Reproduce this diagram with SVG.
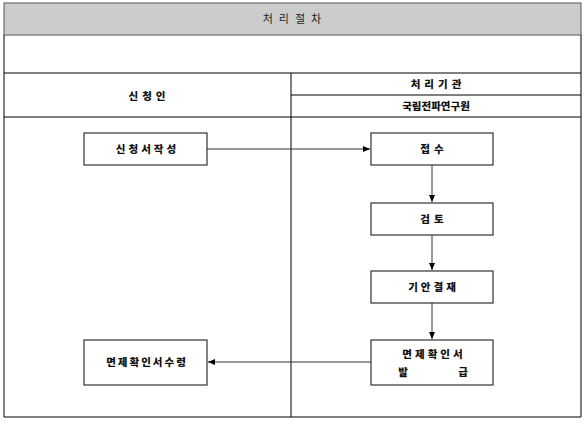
<svg xmlns="http://www.w3.org/2000/svg" width="585" height="427" viewBox="0 0 585 427">
<style>
.ln{stroke:#000;stroke-width:1;fill:none}
.box{fill:#fff;stroke:#333;stroke-width:1.2}
.t{font-family:"Noto Sans CJK KR","Noto Sans",sans-serif;font-size:10.5px;font-weight:900;fill:#111;text-anchor:middle}
.h{font-family:"Noto Sans CJK KR","Noto Sans",sans-serif;font-size:11px;fill:#222;text-anchor:middle}
.c{stroke:#333;stroke-width:1;fill:none;marker-end:url(#ah)}
</style>
<defs>
<marker id="ah" markerWidth="8" markerHeight="8" refX="7" refY="4" orient="auto" markerUnits="userSpaceOnUse">
<path d="M0,1 L7,4 L0,7 Z" fill="#000"/>
</marker>
</defs>
<rect width="585" height="427" fill="#fff"/>
<g id="frame">
<rect x="4" y="3" width="577" height="32" fill="#cccccc" stroke="#555"/>
<text class="h" x="295" y="23" style="letter-spacing:6px">처리절차</text>
<path class="ln" d="M4 35 V417 M581 35 V417 M4 73 H581 M291 73 V417 M291 95 H581 M4 117 H581 M4 417 H581"/>
<text class="t" x="149" y="100" style="letter-spacing:4px">신청인</text>
<text class="t" x="438" y="88" style="letter-spacing:4px">처리기관</text>
<text class="t" x="436" y="110">국립전파연구원</text>
</g>
<g id="n1"><rect class="box" x="84" y="133" width="123" height="32"/><text class="t" x="147.5" y="153" style="letter-spacing:3px">신청서작성</text></g>
<g id="n2"><rect class="box" x="371" y="133" width="122" height="32"/><text class="t" x="434" y="153" style="letter-spacing:4px">접수</text></g>
<g id="n3"><rect class="box" x="371" y="203" width="122" height="32"/><text class="t" x="434" y="223" style="letter-spacing:4px">검토</text></g>
<g id="n4"><rect class="box" x="371" y="271" width="122" height="32"/><text class="t" x="433.5" y="291" style="letter-spacing:3px">기안결재</text></g>
<g id="n5"><rect class="box" x="371" y="340" width="122" height="45"/><text class="t" x="434" y="358" style="letter-spacing:3px">면제확인서</text><text class="t" x="403" y="376">발</text><text class="t" x="463" y="376">급</text></g>
<g id="n6"><rect class="box" x="84" y="340" width="123" height="45"/><text class="t" x="147" y="366" style="letter-spacing:2px">면제확인서수령</text></g>
<g id="connectors">
<path class="c" d="M207 149 H370"/>
<path class="c" d="M432 165 V202"/>
<path class="c" d="M432 235 V270"/>
<path class="c" d="M432 303 V339"/>
<path class="c" d="M371 362 H208"/>
</g>
</svg>
